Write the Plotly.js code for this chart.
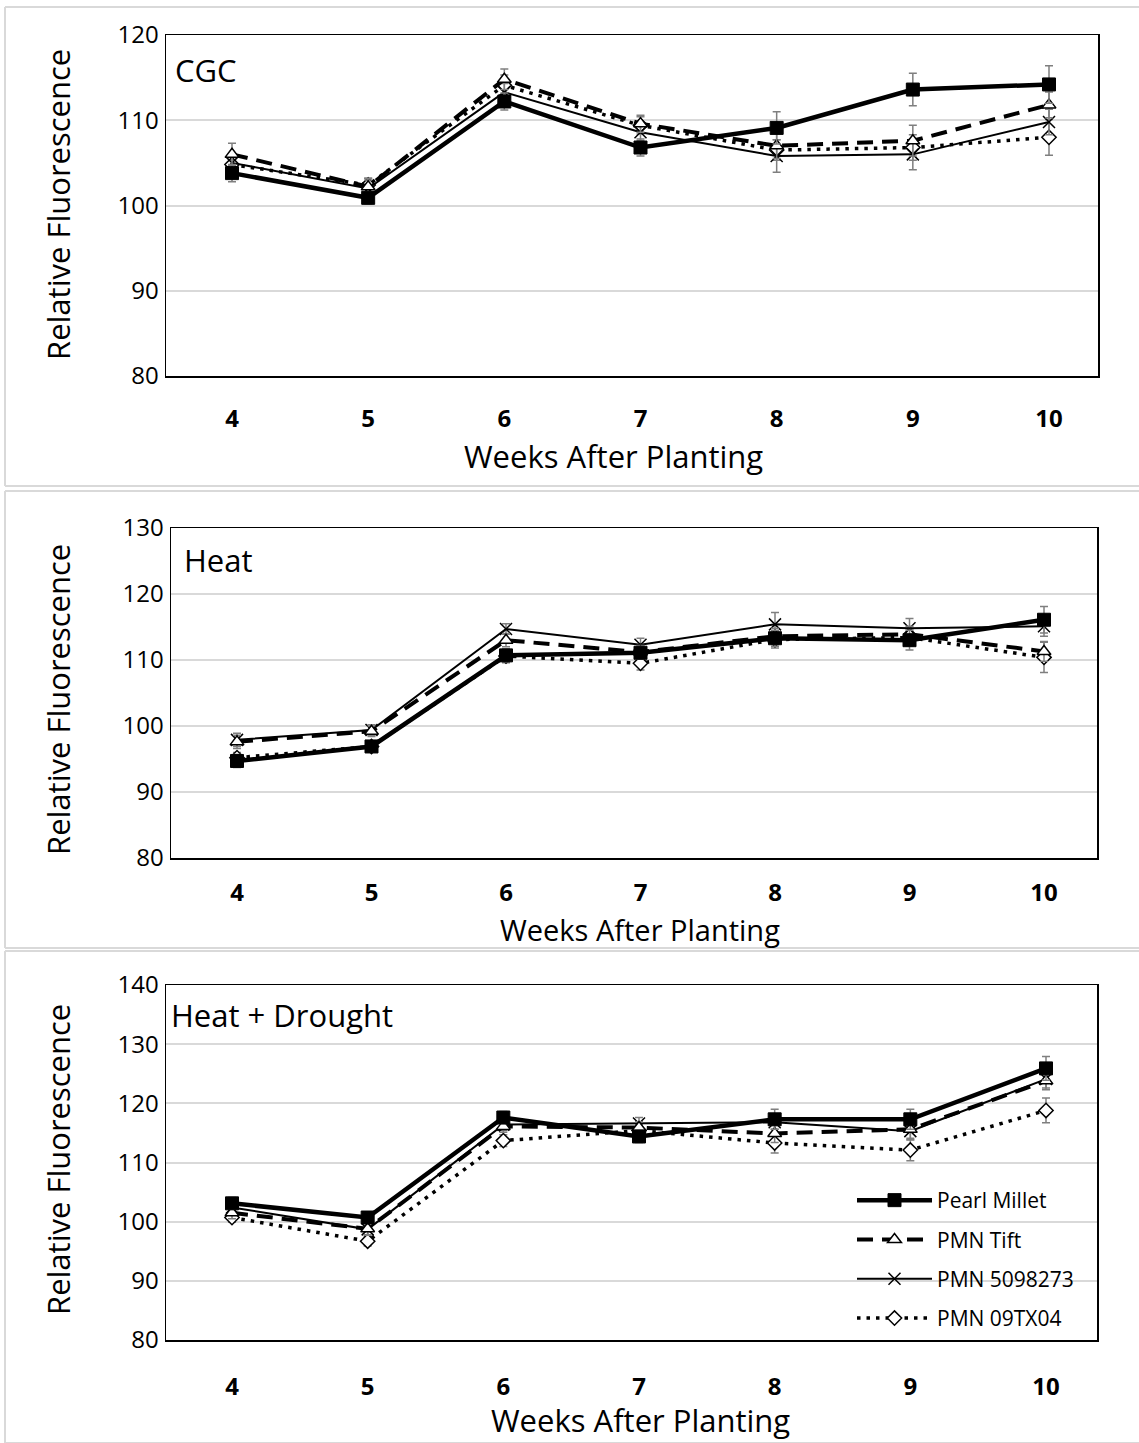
<!DOCTYPE html>
<html>
<head>
<meta charset="utf-8">
<script src="https://cdn.plot.ly/plotly-3.0.1.min.js"></script>
<style>html,body{margin:0;padding:0;background:#fff;}#chart{width:1139px;height:1443px;}</style>
</head>
<body>
<div id="chart"></div>
<script>
// ---- data ----
const weeks = [4, 5, 6, 7, 8, 9, 10];
const seriesNames = ["Pearl Millet", "PMN Tift", "PMN 5098273", "PMN 09TX04"];
const panelTitles = ["CGC", "Heat", "Heat + Drought"];

// CGC
const pmCGC      = [103.8, 100.9, 112.2, 106.8, 109.1, 113.6, 114.2];
const pmCGCErr   = [1.0, 0.7, 1.0, 1.0, 1.9, 1.9, 2.2];
const tiftCGC    = [106.0, 102.2, 114.8, 109.6, 107.0, 107.6, 111.8];
const tiftCGCErr = [1.3, 1.0, 1.2, 1.0, 1.5, 1.8, 1.5];
const p509CGC    = [105.0, 102.0, 113.3, 108.6, 105.8, 106.0, 109.8];
const p509CGCErr = [1.0, 1.0, 1.0, 1.0, 1.9, 1.8, 1.5];
const p09CGC     = [104.8, 102.4, 114.1, 109.4, 106.5, 106.8, 108.0];
const p09CGCErr  = [1.2, 0.8, 1.2, 1.0, 1.2, 1.5, 2.1];

// Heat
const pmHeat      = [94.7, 96.9, 110.7, 111.1, 113.3, 113.0, 116.1];
const pmHeatErr   = [1.0, 0.8, 1.0, 1.0, 1.2, 1.5, 2.0];
const tiftHeat    = [97.6, 99.2, 113.0, 111.2, 113.6, 113.9, 111.3];
const tiftHeatErr = [1.0, 0.8, 1.0, 1.0, 1.2, 1.2, 1.5];
const p509Heat    = [97.9, 99.4, 114.7, 112.3, 115.4, 114.8, 115.1];
const p509HeatErr = [1.0, 0.8, 0.8, 1.0, 1.8, 1.5, 1.5];
const p09Heat     = [95.2, 96.9, 110.6, 109.5, 113.1, 113.4, 110.4];
const p09HeatErr  = [0.8, 0.8, 1.0, 1.0, 1.3, 1.3, 2.3];

// Heat + Drought
const pmHD      = [103.1, 100.7, 117.6, 114.4, 117.3, 117.3, 125.9];
const pmHDErr   = [1.0, 0.8, 1.0, 1.0, 1.7, 1.7, 2.0];
const tiftHD    = [101.5, 98.8, 116.1, 115.9, 114.9, 115.6, 123.8];
const tiftHDErr = [1.0, 1.0, 1.0, 1.0, 1.5, 1.5, 1.5];
const p509HD    = [102.4, 98.7, 116.4, 116.6, 116.8, 115.3, 124.1];
const p509HDErr = [1.0, 1.0, 1.0, 1.0, 1.2, 1.5, 1.5];
const p09HD     = [100.7, 96.7, 113.7, 115.4, 113.3, 112.1, 118.8];
const p09HDErr  = [0.8, 0.8, 1.0, 1.0, 1.7, 1.8, 2.1];

const yRanges = [[80, 120], [80, 130], [80, 140]];
const panels = [
  [[pmCGC, pmCGCErr], [tiftCGC, tiftCGCErr], [p509CGC, p509CGCErr], [p09CGC, p09CGCErr]],
  [[pmHeat, pmHeatErr], [tiftHeat, tiftHeatErr], [p509Heat, p509HeatErr], [p09Heat, p09HeatErr]],
  [[pmHD, pmHDErr], [tiftHD, tiftHDErr], [p509HD, p509HDErr], [p09HD, p09HDErr]]
];

// ---- styling ----
const W = 1139, H = 1443;
const px = v => v / W;
const py = v => 1 - v / H;
const FONT = "Open Sans, Noto Sans, sans-serif";
const TITLE_SIZE = 31;

const styles = [
  {line: {color: "#000", width: 4.5, dash: "solid"}, marker: {symbol: "square", size: 13, color: "#000", line: {color: "#000", width: 1}}},
  {line: {color: "#000", width: 4, dash: "16px,9px"}, marker: {symbol: "triangle-up", size: 12, color: "#fff", line: {color: "#000", width: 1.5}}},
  {line: {color: "#000", width: 2, dash: "solid"}, marker: {symbol: "x-thin-open", size: 12, color: "#000", line: {color: "#000", width: 1.5}}},
  {line: {color: "#000", width: 3.5, dash: "3.5px,6px"}, marker: {symbol: "diamond", size: 11, color: "#fff", line: {color: "#000", width: 1.5}}}
];

// plot-area geometry (pixels) per panel
const geo = [
  {l: 166, r: 1098, t: 35, b: 376, x4: 232, x10: 1049, lab: 21},
  {l: 171, r: 1097, t: 528, b: 858, x4: 237, x10: 1044, lab: 13},
  {l: 166, r: 1097, t: 985, b: 1340, x4: 232, x10: 1046, lab: 25}
];

const traces = [];
const drawOrder = [3, 2, 1, 0];
panels.forEach((series, p) => {
  drawOrder.forEach(s => {
    const [vals, errs] = series[s];
    traces.push({
      type: "scatter", mode: "lines+markers",
      x: weeks, y: vals,
      name: seriesNames[s],
      legendgroup: "g" + s,
      legendrank: s + 1,
      showlegend: p === 2,
      xaxis: p === 0 ? "x" : "x" + (p + 1),
      yaxis: p === 0 ? "y" : "y" + (p + 1),
      line: styles[s].line,
      marker: styles[s].marker,
      error_y: {type: "data", array: errs, visible: true, color: "#7f7f7f", thickness: 1.5, width: 4},
      hoverinfo: "x+y+name"
    });
  });
});

const layout = {
  width: W, height: H,
  margin: {l: 0, r: 0, t: 0, b: 0},
  paper_bgcolor: "#fff", plot_bgcolor: "#fff",
  font: {family: FONT, color: "#000"},
  showlegend: true,
  legend: {
    x: px(852), y: py(1180), xanchor: "left", yanchor: "top",
    bgcolor: "rgba(0,0,0,0)", borderwidth: 0,
    font: {family: FONT, size: 21, color: "#000"},
    traceorder: "grouped", tracegroupgap: 9, itemwidth: 75
  },
  annotations: [], shapes: []
};

geo.forEach((g, p) => {
  const ux = (g.x10 - g.x4) / 6;
  const xr = [4 - (g.x4 - g.l) / ux, 10 + (g.r - g.x10) / ux];
  const xk = p === 0 ? "xaxis" : "xaxis" + (p + 1);
  const yk = p === 0 ? "yaxis" : "yaxis" + (p + 1);
  const yid = p === 0 ? "y" : "y" + (p + 1);
  const xid = p === 0 ? "x" : "x" + (p + 1);
  layout[xk] = {
    domain: [px(g.l), px(g.r)], anchor: yid, range: xr,
    tickvals: weeks, ticktext: weeks.map(String),
    tickfont: {family: FONT, size: 24, color: "#000", weight: "bold"},
    showgrid: false, zeroline: false, ticks: "",
    showline: true, mirror: true, linecolor: "#000", linewidth: 1.5,
    ticklabelstandoff: g.lab, automargin: false, fixedrange: true
  };
  layout[yk] = {
    domain: [py(g.b), py(g.t)], anchor: xid, range: yRanges[p], dtick: 10,
    tickfont: {family: FONT, size: 24, color: "#000"},
    showgrid: true, gridcolor: "#d9d9d9", gridwidth: 2, zeroline: false, ticks: "",
    showline: true, mirror: true, linecolor: "#000", linewidth: 1.5,
    ticklabelstandoff: 1, automargin: false, fixedrange: true
  };
});

// axis titles and panel labels
const xTitlePos = [[613, 456, 31], [640, 929, 29], [640, 1420, 31]];
const yTitleY = [205, 700, 1160];
const panelLabelPos = [[173, 70], [182, 560], [169, 1015]];
for (let p = 0; p < 3; p++) {
  layout.annotations.push({
    xref: "paper", yref: "paper", x: px(xTitlePos[p][0]), y: py(xTitlePos[p][1]),
    xanchor: "center", yanchor: "middle", showarrow: false,
    text: "Weeks After Planting", font: {family: FONT, size: xTitlePos[p][2], color: "#000"}
  });
  layout.annotations.push({
    xref: "paper", yref: "paper", x: px(58), y: py(yTitleY[p]),
    xanchor: "center", yanchor: "middle", showarrow: false, textangle: -90,
    text: "Relative Fluorescence", font: {family: FONT, size: TITLE_SIZE, color: "#000"}
  });
  layout.annotations.push({
    xref: "paper", yref: "paper", x: px(panelLabelPos[p][0]), y: py(panelLabelPos[p][1]),
    xanchor: "left", yanchor: "middle", showarrow: false,
    text: panelTitles[p], font: {family: FONT, size: TITLE_SIZE, color: "#000"}
  });
}

// panel frames
const frameLine = {color: "#d9d9d9", width: 2};
[[7, 486], [491, 948], [951, 1443]].forEach(([t, b]) => {
  layout.shapes.push({type: "line", xref: "paper", yref: "paper", x0: px(5), x1: 1, y0: py(t), y1: py(t), line: frameLine, layer: "below"});
  layout.shapes.push({type: "line", xref: "paper", yref: "paper", x0: px(5), x1: 1, y0: py(b), y1: py(b), line: frameLine, layer: "below"});
  layout.shapes.push({type: "line", xref: "paper", yref: "paper", x0: px(5), x1: px(5), y0: py(t), y1: py(b), line: frameLine, layer: "below"});
});

Plotly.newPlot("chart", traces, layout, {staticPlot: true, displayModeBar: false});
</script>
</body>
</html>
